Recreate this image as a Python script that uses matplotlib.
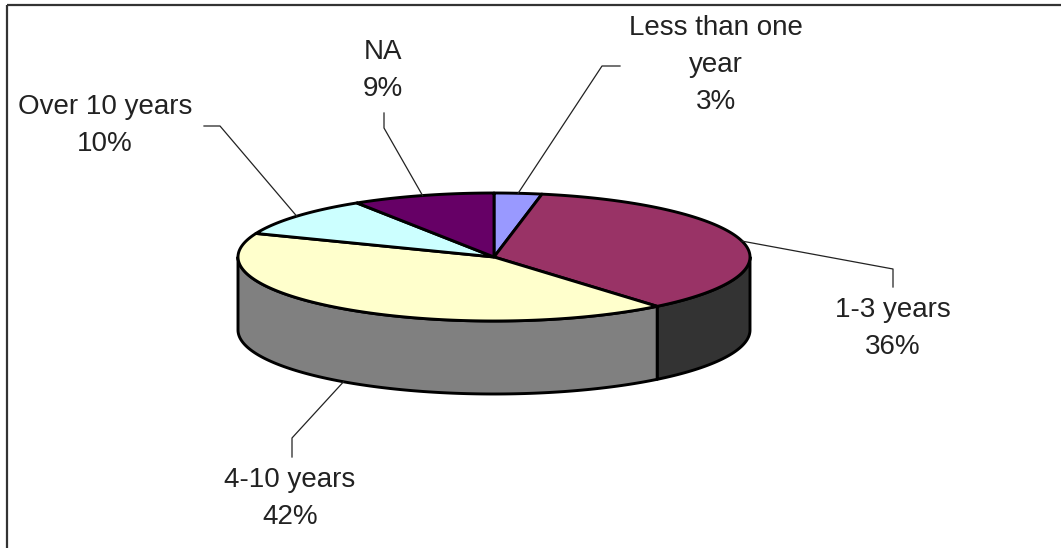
import numpy as np
import matplotlib.pyplot as plt
from matplotlib.patches import Polygon, Rectangle

# slices, clockwise from 12 o'clock
categories = ["Less than one year", "1-3 years", "4-10 years", "Over 10 years", "NA"]
shares = [3, 36, 42, 10, 9]

top_colors = ["#9999FF", "#993366", "#FFFFCC", "#CCFFFF", "#660066"]
side_colors = ["#4D4D80", "#333333", "#808080", "#668080", "#330033"]

# how the label text is broken into lines
label_lines = [["Less than one", "year"], ["1-3 years"], ["4-10 years"],
               ["Over 10 years"], ["NA"]]
# centre of first label line (pixels) and leader line elbows
label_pos = [(716, 28), (893, 310), (290, 480), (105, 107), (383, 52)]
elbows = [[(620, 66), (602, 66)],
          [(893, 287), (893, 269)],
          [(292, 457), (292, 438)],
          [(204, 126), (220, 126)],
          [(384, 113), (384, 128)]]

# pie geometry in pixels
cx, cy, ra, rb, depth = 494, 257, 256, 64, 73
line_h = 37


def pt(theta, dz=0.0):
    t = np.radians(theta)
    return cx + ra * np.sin(t), cy - rb * np.cos(t) + dz


fig = plt.figure(figsize=(10.61, 5.48), dpi=100)
ax = fig.add_axes([0, 0, 1, 1])
ax.set_xlim(0, 1061)
ax.set_ylim(548, 0)
ax.axis("off")

# frame (only top and left edges fall inside the picture)
ax.add_patch(Rectangle((7, 5), 1200, 700, fill=False, ec="#333333", lw=1.6))

total = float(sum(shares))
bounds = np.concatenate([[0], np.cumsum(shares)]) / total * 360.0

# side walls
for i in range(len(shares)):
    lo, hi = max(bounds[i], 90), min(bounds[i + 1], 270)
    if hi <= lo:
        continue
    ts = np.linspace(lo, hi, 120)
    top = [pt(t) for t in ts]
    bot = [pt(t, depth) for t in ts[::-1]]
    ax.add_patch(Polygon(top + bot, closed=True, fc=side_colors[i], ec="black",
                         lw=2.1, joinstyle="round"))

# top face
for i in range(len(shares)):
    ts = np.linspace(bounds[i], bounds[i + 1], 200)
    verts = [(cx, cy)] + [pt(t) for t in ts]
    ax.add_patch(Polygon(verts, closed=True, fc=top_colors[i], ec="black",
                         lw=2.1, joinstyle="round"))

# labels and leader lines
for i in range(len(shares)):
    mid = (bounds[i] + bounds[i + 1]) / 2
    if np.cos(np.radians(mid)) < 0:
        anchor = pt(mid, depth)
    else:
        anchor = pt(mid)
    path = elbows[i] + [anchor]
    ax.plot([p[0] for p in path], [p[1] for p in path], color="#222222", lw=0.9)

    x0, y0 = label_pos[i]
    lines = label_lines[i] + [f"{shares[i]}%"]
    for k, s in enumerate(lines):
        ax.text(x0, y0 + k * line_h, s, ha="center", va="center",
                fontsize=20, family="Liberation Sans", color="#222222")

fig.savefig("out.png", dpi=100)
